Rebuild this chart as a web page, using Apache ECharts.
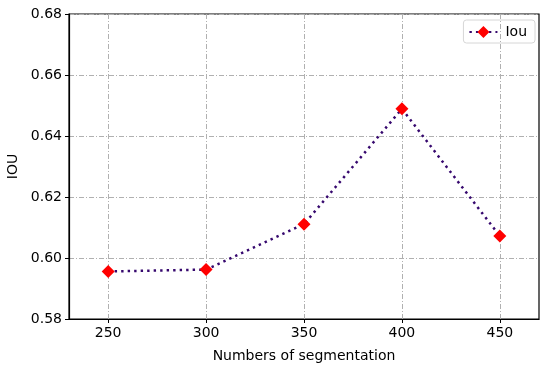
<!DOCTYPE html>
<html><head><meta charset="utf-8">
<script src="https://cdn.jsdelivr.net/npm/echarts@6/dist/echarts.min.js"></script>
<style>html,body{margin:0;padding:0;background:#fff}#c{width:550px;height:370px}</style>
</head><body><div id="c"></div>
<script>
const categories = [250, 300, 350, 400, 450];
const iouValues = [0.5956, 0.5962, 0.6111, 0.6489, 0.6072];
const yTicks = [0.58, 0.60, 0.62, 0.64, 0.66, 0.68];
const seriesName = 'Iou';

const font = 'DejaVu Sans';
const fs = 14;
const gridLine = {show: true, lineStyle: {color: '#b0b0b0', width: 1, type: [5, 2, 1, 2]}};
const chart = echarts.init(document.getElementById('c'), null, {renderer: 'canvas'});
chart.setOption({
  animation: false,
  grid: {left: 69, right: 11, top: 14, bottom: 51, containLabel: false, outerBoundsMode: 'none',
         show: true, borderColor: '#000', borderWidth: 1.2, backgroundColor: 'transparent'},
  legend: {
    data: [seriesName], right: 15, top: 20,
    borderColor: '#d6d6d6', borderWidth: 1, borderRadius: 3, padding: [5, 8, 4, 5],
    itemWidth: 28, itemHeight: 15, itemGap: 6,
    textStyle: {fontFamily: font, fontSize: fs, color: '#000', padding: [0, 0, 0, 3]}
  },
  xAxis: {
    type: 'value', min: 230, max: 470,
    name: 'Numbers of segmentation', nameLocation: 'middle', nameGap: 30,
    nameTextStyle: {fontFamily: font, fontSize: fs, color: '#000'},
    axisLine: {show: true, onZero: false, lineStyle: {color: '#000', width: 1.2}},
    axisTick: {show: true, length: 4, lineStyle: {color: '#000'}, customValues: categories},
    axisLabel: {fontFamily: font, fontSize: fs, color: '#000', margin: 7, customValues: categories},
    splitLine: gridLine
  },
  yAxis: {
    type: 'value', min: yTicks[0], max: yTicks[yTicks.length - 1], interval: 0.02,
    name: 'IOU', nameLocation: 'middle', nameGap: 46,
    nameTextStyle: {fontFamily: font, fontSize: fs, color: '#000'},
    axisLine: {show: true, lineStyle: {color: '#000', width: 1.2}},
    axisTick: {show: true, length: 4, lineStyle: {color: '#000'}},
    axisLabel: {fontFamily: font, fontSize: fs, color: '#000', margin: 7, formatter: v => v.toFixed(2)},
    splitLine: gridLine
  },
  series: [{
    name: seriesName, type: 'line',
    data: categories.map((c, i) => [c, iouValues[i]]),
    symbol: 'diamond', symbolSize: 13,
    itemStyle: {color: '#ff0000'},
    lineStyle: {color: '#36086e', width: 2.5, type: [2.4, 4.1], cap: 'butt'},
    z: 3
  }]
});
</script></body></html>
